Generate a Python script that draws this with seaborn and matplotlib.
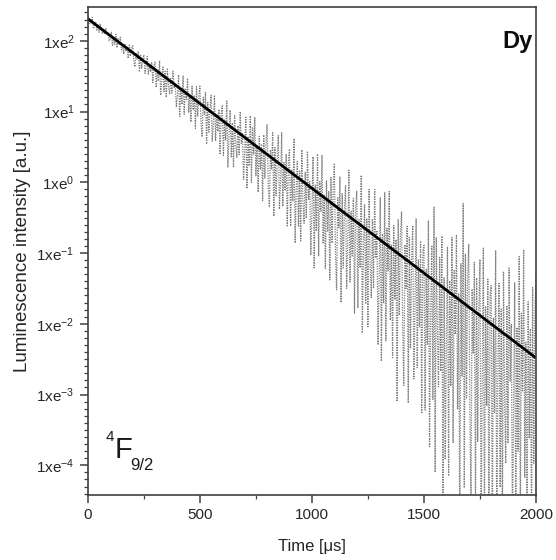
import matplotlib
matplotlib.use('Agg')
import matplotlib.pyplot as plt
import matplotlib.ticker as mticker
import seaborn as sns
import numpy as np
import pandas as pd

# measured decay, one point every 5 us, values read as log10(intensity)
# (-5.0 = point fell below the plotted range)
time_us = list(range(0, 2001, 5))
log_intensity = [
    # 0 - 95
    2.35, 2.24, 2.30, 2.24, 2.33, 2.17, 2.22, 2.27, 2.15, 2.22,
    2.12, 2.24, 2.15, 2.10, 2.17, 2.09, 2.18, 2.09, 2.10, 2.00,
    # 100 - 195
    2.03, 2.12, 1.92, 2.05, 1.95, 2.09, 1.90, 2.03, 1.94, 2.05,
    1.87, 1.95, 1.81, 1.96, 1.85, 1.92, 1.75, 1.94, 1.78, 1.89,
    # 200 - 295
    1.93, 1.72, 1.63, 1.82, 1.74, 1.85, 1.56, 1.81, 1.61, 1.73,
    1.80, 1.54, 1.63, 1.78, 1.52, 1.67, 1.56, 1.70, 1.41, 1.64,
    # 300 - 395
    1.70, 1.34, 1.58, 1.43, 1.72, 1.23, 1.46, 1.63, 1.28, 1.57,
    1.20, 1.60, 1.36, 1.25, 1.47, 1.26, 1.57, 1.33, 1.40, 1.06,
    # 400 - 495
    1.23, 1.52, 0.93, 1.34, 1.10, 1.50, 0.96, 1.33, 1.17, 1.47,
    0.99, 1.24, 0.85, 1.36, 1.02, 1.22, 0.76, 1.35, 0.93, 1.20,
    # 500 - 595
    1.36, 0.85, 0.64, 1.20, 0.96, 1.27, 0.54, 1.13, 0.71, 1.02,
    1.23, 0.58, 0.82, 1.23, 0.59, 0.97, 0.72, 1.03, 0.39, 0.96,
    # 600 - 695
    1.08, 0.38, 0.88, 0.59, 1.15, 0.21, 0.68, 1.02, 0.35, 0.84,
    0.21, 0.94, 0.55, 0.35, 0.80, 0.39, 1.00, 0.55, 0.70, 0.04,
    # 700 - 795
    0.42, 0.92, -0.09, 0.65, 0.23, 0.94, 0.00, 0.77, 0.39, 0.92,
    0.09, 0.53, -0.14, 0.65, 0.18, 0.54, -0.26, 0.67, 0.06, 0.55,
    # 800 - 895
    0.82, -0.02, -0.35, 0.46, 0.18, 0.70, -0.48, 0.49, -0.19, 0.32,
    0.66, -0.38, 0.01, 0.70, -0.34, 0.28, -0.12, 0.40, -0.63, 0.30,
    # 900 - 995
    0.47, -0.62, 0.17, -0.27, 0.62, -0.86, -0.11, 0.31, -0.62, 0.16,
    -0.83, 0.46, -0.28, -0.58, 0.14, -0.51, 0.44, -0.24, 0.01, -1.03,
    # 1000 - 1095
    -0.42, 0.36, -1.21, -0.04, -0.69, 0.40, -1.04, 0.01, -0.41, 0.38,
    -0.87, -0.17, -1.22, 0.02, -0.70, -0.13, -1.38, 0.07, -0.86, -0.09,
    # 1100 - 1195
    0.27, -0.99, -1.52, -0.22, -0.64, 0.08, -1.70, -0.16, -1.21, -0.39,
    -0.05, -1.50, -0.86, 0.17, -1.41, -0.41, -1.04, -0.23, -1.85, -0.36,
    # 1200 - 1295
    -0.12, -1.78, -0.53, -1.21, 0.10, -2.13, -0.94, -0.32, -1.72, -0.51,
    -2.04, -0.10, -1.16, -1.63, -0.52, -1.50, -0.10, -1.07, -0.68, -2.30,
    # 1300 - 1395
    -1.32, -0.22, -2.53, -0.73, -1.71, -0.14, -2.24, -0.65, -1.25, -0.13,
    -1.95, -0.88, -2.48, -0.61, -1.66, -0.81, -3.10, -0.53, -1.88, -0.74,
    # 1400 - 1495
    -0.42, -2.06, -2.87, -0.88, -1.50, -0.62, -3.12, -0.78, -2.35, -1.09,
    -0.61, -2.78, -1.79, -0.51, -2.62, -1.09, -2.04, -0.83, -3.27, -1.00,
    # 1500 - 1595
    -0.89, -3.22, -1.23, -2.29, -0.54, -3.75, -1.84, -0.89, -3.07, -0.35,
    -4.10, -0.78, -2.15, -2.89, -1.06, -2.67, -0.76, -5.00, -1.35, -3.92,
    # 1600 - 1695
    -2.31, -0.91, -4.15, -1.39, -2.88, -0.78, -3.68, -1.25, -2.15, -0.74,
    -3.21, -1.57, -5.00, -1.15, -2.74, -0.30, -4.32, -1.01, -3.05, -1.31,
    # 1700 - 1795
    -0.87, -3.28, -4.49, -1.51, -2.42, -1.13, -4.84, -1.35, -3.67, -1.78,
    -1.09, -5.00, -2.81, -0.93, -5.00, -1.75, -3.16, -1.37, -5.00, -1.60,
    # 1800 - 1895
    -1.46, -5.00, -1.92, -3.25, -0.96, -5.00, -2.68, -1.43, -4.31, -1.79,
    -5.00, -1.26, -3.05, -3.97, -1.74, -3.69, -1.21, -2.81, -2.01, -5.00,
    # 1900 - 1995
    -3.15, -1.42, -5.00, -2.05, -3.80, -1.05, -5.00, -1.85, -2.95, -0.95,
    -4.17, -2.26, -5.00, -1.69, -3.62, -2.07, -5.00, -1.49, -3.97, -1.88,
    # 2000
    -1.30,
]

# single-exponential fit, end points
fit_time = [0, 2000]
fit_intensity = [205.0, 3.3e-3]

data_df = pd.DataFrame({'t': time_us, 'I': np.power(10.0, log_intensity)})
fit_df = pd.DataFrame({'t': fit_time, 'I': fit_intensity})

sns.set_theme(style='ticks')
plt.rcParams['font.family'] = ['Liberation Sans', 'DejaVu Sans']
plt.rcParams['mathtext.fontset'] = 'custom'
plt.rcParams['mathtext.rm'] = 'Liberation Sans'
plt.rcParams['mathtext.it'] = 'Liberation Sans:italic'

fig = plt.figure(figsize=(5.56, 5.6), dpi=100)
ax = fig.add_axes([0.158, 0.116, 0.806, 0.8715])

sns.lineplot(data=data_df, x='t', y='I', ax=ax, estimator=None, sort=False,
             color='0.4', alpha=0.85, linewidth=0.9, linestyle=(0, (1, 1)))
sns.lineplot(data=fit_df, x='t', y='I', ax=ax, estimator=None, sort=False,
             color='black', linewidth=2.0)

ax.set_yscale('log')
ax.set_xlim(0, 2000)
ax.set_ylim(3.8e-5, 300)

ax.xaxis.set_major_locator(mticker.MultipleLocator(500))
ax.xaxis.set_minor_locator(mticker.MultipleLocator(250))
ax.yaxis.set_major_locator(mticker.FixedLocator([10.0 ** e for e in range(-4, 3)]))
ax.yaxis.set_minor_locator(mticker.FixedLocator(10.0 ** np.arange(-4.4, 2.5, 0.1)))
ax.yaxis.set_major_formatter(mticker.FuncFormatter(
    lambda v, p: r'1xe$^{%d}$' % int(round(np.log10(v)))))
ax.yaxis.set_minor_formatter(mticker.NullFormatter())

for s in ax.spines.values():
    s.set_color('0.25')
    s.set_linewidth(1.2)
ax.tick_params(which='major', direction='out', length=6, width=1.1, color='0.25',
               labelsize=11, labelcolor='0.15', top=False, right=False)
ax.tick_params(which='minor', direction='out', length=3, width=0.9, color='0.25',
               top=False, right=False)

ax.set_xlabel('Time [μs]', fontsize=12, color='0.15', labelpad=12)
ax.set_ylabel('Luminescence intensity [a.u.]', fontsize=13.5, color='0.15', labelpad=4)

ax.text(0.993, 0.916, 'Dy', transform=ax.transAxes, ha='right', va='baseline',
        fontsize=17, fontweight='bold', color='0.05')
ax.text(0.040, 0.111, '4', transform=ax.transAxes, ha='left', va='baseline',
        fontsize=11, color='0.1')
ax.text(0.060, 0.076, 'F', transform=ax.transAxes, ha='left', va='baseline',
        fontsize=21, color='0.1')
ax.text(0.094, 0.051, '9/2', transform=ax.transAxes, ha='left', va='baseline',
        fontsize=12, color='0.1')

plt.savefig('out.png', dpi=100)
plt.close()
